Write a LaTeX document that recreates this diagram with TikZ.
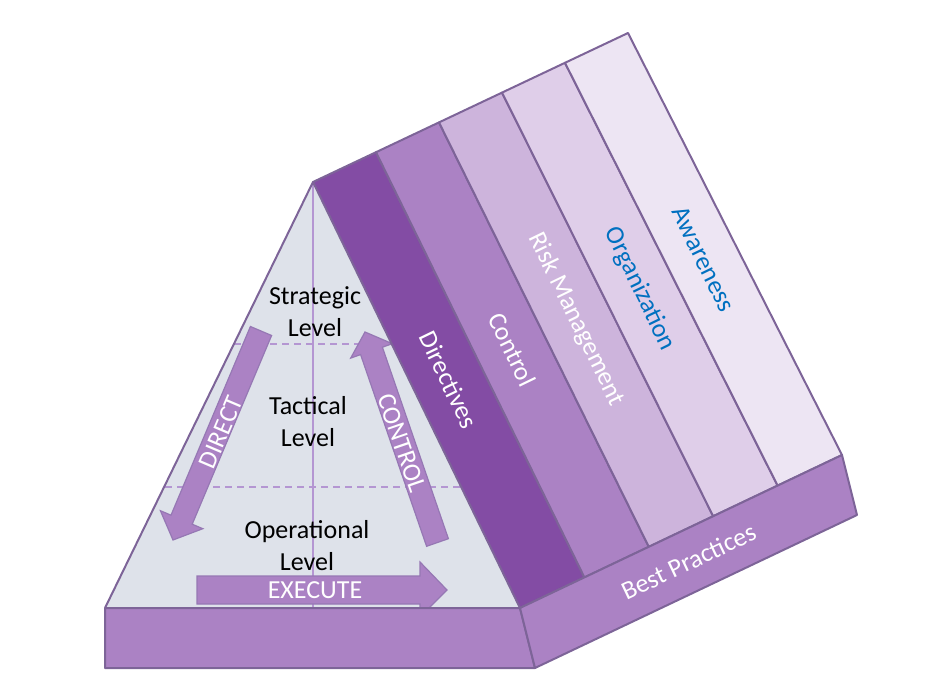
\documentclass[tikz,border=0pt]{standalone}
\usepackage{fontspec}
\setmainfont{Carlito}
\usetikzlibrary{calc}
\definecolor{edgepurple}{RGB}{125,100,152}
\definecolor{darkband}{RGB}{131,76,164}
\definecolor{midband}{RGB}{171,130,196}
\definecolor{lightband}{RGB}{205,180,220}
\definecolor{paleband}{RGB}{223,206,233}
\definecolor{faintband}{RGB}{237,229,243}
\definecolor{trifill}{RGB}{222,226,234}
\definecolor{levelline}{RGB}{180,150,210}
\definecolor{arrowedge}{RGB}{150,120,180}
\definecolor{textblue}{RGB}{0,112,192}
\tikzset{
  outline/.style={draw=edgepurple,line width=2pt,line join=round},
  blockarrow/.style={fill=midband,draw=arrowedge,line width=1.2pt,line join=miter},
  leveldash/.style={draw=levelline,line width=1.2pt,dash pattern=on 7pt off 5pt},
  bigtext/.style={font=\fontsize{26}{32}\selectfont,align=center,inner sep=0pt},
  whitetext/.style={bigtext,text=white},
  bluetext/.style={bigtext,text=textblue}
}
\begin{document}
\begin{tikzpicture}[x=1pt,y=-1pt]
\useasboundingbox (0,0) rectangle (946,679);
\coordinate(apex) at (313,182);
\coordinate(baseL) at (105,608);
\coordinate(baseM) at (313,608);
\coordinate(roofTR) at (628,33);
\coordinate(roofBR) at (842,455);
\coordinate(roofBL) at (520,608);
\coordinate(slabFR) at (535,668);
\coordinate(slabBR) at (857,515);
\coordinate(slabFL) at (105,668);

\fill[trifill] (apex) -- (baseL) -- (roofBL) -- cycle;
\path[leveldash] (234,344) -- (392,344);
\path[leveldash] (165,487) -- (461,487);
\draw[levelline,line width=1.5pt] (apex) -- (baseM);
\draw[outline] (apex) -- (baseL);

\node(strategic) at (315,312)[bigtext]   {Strategic\\Level};
\node(tactical) at (308,422)[bigtext]    {Tactical\\Level};
\node(operational) at (307,546)[bigtext] {Operational\\Level};

\draw[blockarrow] (250.4,326.5) -- (271.6,335.5) -- (192.2,524.2) -- (202.8,528.7)
  -- (173,540) -- (160.4,510.7) -- (171.0,515.2) -- cycle;
\draw[blockarrow] (426.6,546.3) -- (448.4,538.7) -- (382.4,347.2) -- (392.3,343.7)
  -- (365,332) -- (350.7,358.1) -- (360.6,354.6) -- cycle;
\draw[blockarrow] (197,576) -- (420,576) -- (420,562) -- (447,590)
  -- (420,617) -- (420,604) -- (197,604) -- cycle;
\node(direct) at (221,432)[whitetext,rotate=67]     {DIRECT};
\node(control) at (402,443)[whitetext,rotate=-71]   {CONTROL};
\node(execute) at (315,590)[whitetext]              {EXECUTE};

\foreach \i in {0,...,5}{
  \coordinate(top\i) at ($(apex)!\i/5!(roofTR)$);
  \coordinate(bot\i) at ($(roofBL)!\i/5!(roofBR)$);
}
\foreach \c [count=\i] in {darkband,midband,lightband,paleband,faintband}{
  \pgfmathtruncatemacro{\j}{\i-1}
  \filldraw[fill=\c,outline] (top\j) -- (top\i) -- (bot\i) -- (bot\j) -- cycle;
}
\node(directives) at ($(top0)!0.5!(bot1)$)[whitetext,rotate=-64.1]   {Directives};
\node(controlband) at ($(top1)!0.5!(bot2)$)[whitetext,rotate=-64.1]  {Control};
\node(risk) at ($(top2)!0.5!(bot3)$)[whitetext,rotate=-64.1]         {Risk Management};
\node(organization) at ($(top3)!0.5!(bot4)$)[bluetext,rotate=-64.1]  {Organization};
\node(awareness) at ($(top4)!0.5!(bot5)$)[bluetext,rotate=-64.1]     {Awareness};

\filldraw[fill=midband,outline] (baseL) -- (roofBL) -- (slabFR) -- (slabFL) -- cycle;
\filldraw[fill=midband,outline] (roofBL) -- (roofBR) -- (slabBR) -- (slabFR) -- cycle;
\node(bestpractices) at ($(roofBL)!0.5!(slabBR)$)[whitetext,rotate=25.4] {Best Practices};
\end{tikzpicture}
\end{document}
